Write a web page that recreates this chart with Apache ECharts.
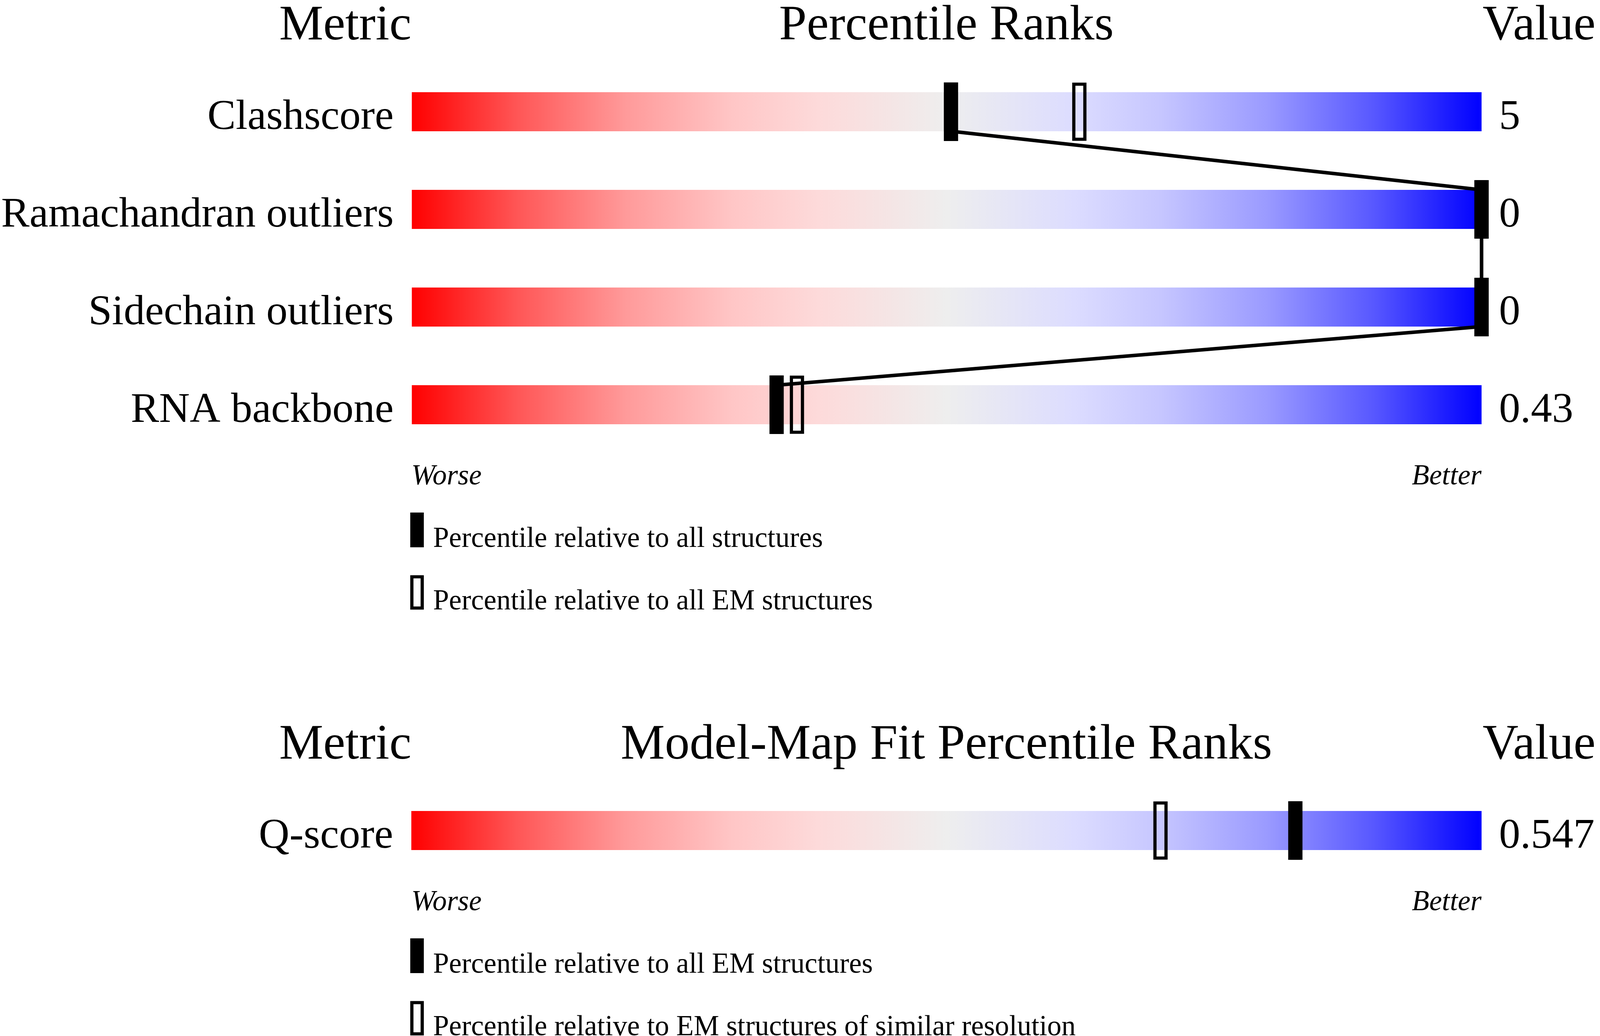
<!DOCTYPE html>
<html>
<head>
<meta charset="utf-8">
<script src="https://cdn.jsdelivr.net/npm/echarts@6/dist/echarts.min.js"></script>
<style>
html,body{margin:0;padding:0;background:#fff;overflow:hidden;width:100%;height:100%;}
#chart{width:100vw;height:100vh;}
</style>
</head>
<body>
<div id="chart"></div>
<script>
// ---- data ----
const metrics1 = ['Clashscore', 'Ramachandran outliers', 'Sidechain outliers', 'RNA backbone'];
const values1 = ['5', '0', '0', '0.43'];
const pctAll1 = [50.4, 100, 100, 34.1];       // relative to all structures (filled)
const pctEM1 = [62.4, 100, 100, 36.0];        // relative to all EM structures (open)

const metrics2 = ['Q-score'];
const values2 = ['0.547'];
const pctEM2 = [82.6];                        // relative to all EM structures (filled)
const pctRes2 = [70.0];                       // relative to EM structures of similar resolution (open)

const headers1 = ['Metric', 'Percentile Ranks', 'Value'];
const headers2 = ['Metric', 'Model-Map Fit Percentile Ranks', 'Value'];
const legend1 = ['Percentile relative to all structures', 'Percentile relative to all EM structures'];
const legend2 = ['Percentile relative to all EM structures', 'Percentile relative to EM structures of similar resolution'];
const axisEnds = ['Worse', 'Better'];

// ---- chart ----
const FONT = '"Liberation Serif", "Times New Roman", serif';
const el = document.getElementById('chart');
const chart = echarts.init(el, null, {renderer: 'canvas'});
const W = chart.getWidth(), H = chart.getHeight();
const sx = W / 4485, sy = H / 2652, s = Math.min(sx, sy);
const X = v => v * sx, Y = v => v * sy, S = v => v * s;

const grad = new echarts.graphic.LinearGradient(0, 0, 1, 0, [
  {offset: 0, color: '#ff0000'},
  {offset: 0.1, color: '#ff5757'},
  {offset: 0.2, color: '#ff9a9a'},
  {offset: 0.3, color: '#ffc6c6'},
  {offset: 0.38, color: '#fddada'},
  {offset: 0.5, color: '#eeeeee'},
  {offset: 0.62, color: '#dcdcff'},
  {offset: 0.7, color: '#c6c6ff'},
  {offset: 0.8, color: '#9a9aff'},
  {offset: 0.9, color: '#5757ff'},
  {offset: 1, color: '#0000ff'}
]);

function filledMarker(params, api) {
  const c = api.coord([api.value(0), api.value(1)]);
  return {type: 'rect', shape: {x: c[0] - X(20), y: c[1] - Y(75), width: X(40), height: Y(150)}, style: {fill: '#000'}};
}
function openMarker(params, api) {
  const c = api.coord([api.value(0), api.value(1)]);
  return {type: 'rect', shape: {x: c[0] - X(15.5), y: c[1] - Y(70.5), width: X(31), height: Y(141)},
          style: {fill: 'none', stroke: '#000', lineWidth: S(9)}};
}
function linkLine(params, api) {
  const a = api.coord([api.value(0), api.value(1)]);
  const b = api.coord([api.value(2), api.value(3)]);
  return {type: 'line', shape: {x1: a[0], y1: a[1] + Y(50), x2: b[0], y2: b[1] - Y(50)},
          style: {stroke: '#000', lineWidth: S(10)}};
}

const linkData1 = [];
for (let i = 0; i < pctAll1.length - 1; i++) linkData1.push([pctAll1[i], i, pctAll1[i + 1], i + 1]);

function catAxis(gridIndex, data, right) {
  return {
    type: 'category', gridIndex: gridIndex, data: data, inverse: true,
    position: right ? 'right' : 'left',
    axisLine: {show: false}, axisTick: {show: false}, splitLine: {show: false},
    axisLabel: {
      show: true, fontFamily: FONT, fontSize: S(119), color: '#000',
      margin: X(right ? 49 : 51), align: right ? 'left' : 'right',
      verticalAlign: 'top', lineHeight: Y(30)
    }
  };
}

// y is the visual centre of the capitals; a small shift compensates the em-box middle
function txt(x, y, text, size, align, italic) {
  return {type: 'text', x: X(x), y: Y(y + 0.13 * size), silent: true,
    style: {text: text, fontFamily: FONT, fontSize: S(size), fontStyle: italic ? 'italic' : 'normal',
            fill: '#000', align: align, verticalAlign: 'middle'}};
}
function box(x, y, w, h, open) {
  return open
    ? {type: 'rect', silent: true, shape: {x: X(x + 4.5), y: Y(y + 4.5), width: X(w - 9), height: Y(h - 9)},
       style: {fill: 'none', stroke: '#000', lineWidth: S(9)}}
    : {type: 'rect', silent: true, shape: {x: X(x), y: Y(y), width: X(w), height: Y(h)}, style: {fill: '#000'}};
}

const graphics = [
  txt(1153, 50, headers1[0], 139, 'right'),
  txt(2653, 50, headers1[1], 139, 'center'),
  txt(4156, 50, headers1[2], 139, 'left'),
  txt(1153, 1210, axisEnds[0], 80, 'left', true),
  txt(4153, 1210, axisEnds[1], 80, 'right', true),
  box(1150, 1312, 38, 89, false),
  txt(1214, 1370, legend1[0], 80, 'left'),
  box(1150, 1472, 38, 89, true),
  txt(1214, 1530, legend1[1], 80, 'left'),

  txt(1153, 1891, headers2[0], 139, 'right'),
  txt(2653, 1891, headers2[1], 139, 'center'),
  txt(4156, 1891, headers2[2], 139, 'left'),
  txt(1153, 2300, axisEnds[0], 80, 'left', true),
  txt(4153, 2300, axisEnds[1], 80, 'right', true),
  box(1150, 2402, 38, 89, false),
  txt(1214, 2460, legend2[0], 80, 'left'),
  box(1150, 2562, 38, 89, true),
  txt(1214, 2620, legend2[1], 80, 'left')
];

const option = {
  animation: false,
  backgroundColor: '#fff',
  grid: [
    {left: X(1153), width: X(3000), top: Y(161), height: Y(1000)},
    {left: X(1153), width: X(3000), top: Y(2001), height: Y(250)}
  ],
  xAxis: [
    {type: 'value', gridIndex: 0, min: 0, max: 100, show: false},
    {type: 'value', gridIndex: 1, min: 0, max: 100, show: false}
  ],
  yAxis: [
    catAxis(0, metrics1, false),
    catAxis(0, values1, true),
    catAxis(1, metrics2, false),
    catAxis(1, values2, true)
  ],
  graphic: graphics,
  series: [
    {type: 'bar', xAxisIndex: 0, yAxisIndex: 0, data: metrics1.map(() => 100), barWidth: Y(100),
     itemStyle: {color: grad}, silent: true, z: 1},
    {type: 'custom', xAxisIndex: 0, yAxisIndex: 0, renderItem: linkLine, data: linkData1, clip: false, silent: true, z: 2},
    {type: 'custom', xAxisIndex: 0, yAxisIndex: 0, renderItem: openMarker,
     data: pctEM1.map((p, i) => [p, i]), clip: false, silent: true, z: 3},
    {type: 'custom', xAxisIndex: 0, yAxisIndex: 0, renderItem: filledMarker,
     data: pctAll1.map((p, i) => [p, i]), clip: false, silent: true, z: 4},

    {type: 'bar', xAxisIndex: 1, yAxisIndex: 2, data: metrics2.map(() => 100), barWidth: Y(100),
     itemStyle: {color: grad}, silent: true, z: 1},
    {type: 'custom', xAxisIndex: 1, yAxisIndex: 2, renderItem: openMarker,
     data: pctRes2.map((p, i) => [p, i]), clip: false, silent: true, z: 3},
    {type: 'custom', xAxisIndex: 1, yAxisIndex: 2, renderItem: filledMarker,
     data: pctEM2.map((p, i) => [p, i]), clip: false, silent: true, z: 4}
  ]
};
chart.setOption(option);
</script>
</body>
</html>
